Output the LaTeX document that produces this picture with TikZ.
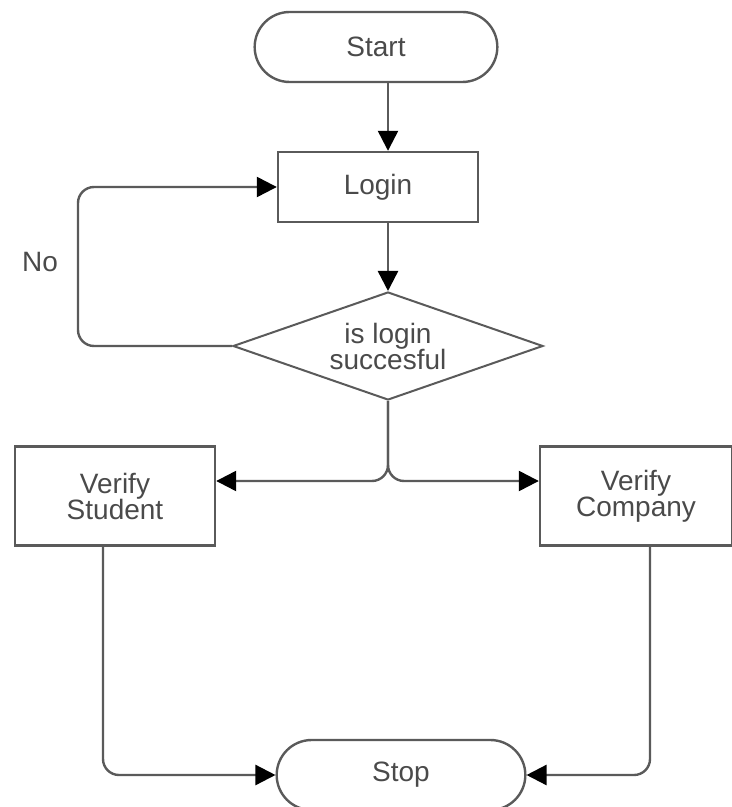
\documentclass[tikz,border=0pt]{standalone}
\usepackage{fontspec}
\setmainfont{Liberation Sans}
\usetikzlibrary{arrows.meta}
\usetikzlibrary{shapes.geometric}
\usetikzlibrary{shapes.misc}
\definecolor{linegray}{HTML}{5A5A5A}
\definecolor{textgray}{HTML}{4A4A4A}
\tikzset{every node/.style = {text = textgray, font = \fontsize{14}{15}\selectfont, align = center}}
\tikzset{terminal/.style = {draw = linegray, line width = 1.2pt, rounded rectangle,
                            minimum width = 128pt, minimum height = 35pt}}
\tikzset{proc/.style = {draw = linegray, line width = 1.2pt, rectangle,
                        minimum width = 100pt, minimum height = 35pt}}
\tikzset{decide/.style = {draw = linegray, line width = 1pt, diamond, aspect = 2.9,
                          inner sep = 0, minimum width = 155pt, minimum height = 54pt}}
\tikzset{arr/.style = {draw = linegray, line width = 1.2pt,
                       -{Triangle[length = 10pt, width = 10pt, color = black]}}}

\begin{document}
\begin{tikzpicture}[x = 0.5pt, y = -0.5pt]
    \useasboundingbox (0, 0) rectangle (732, 807);
    \node [terminal] (start) at (376, 47) {Start};
    \node [proc] (login) at (378, 187) {Login};
    \node [decide] (dec) at (388, 346) {is login\\[-2pt]succesful};
    \node [proc, minimum height = 49.5pt] (vs) at (115, 496) {Verify\\[-2pt]Student};
    \node [proc, minimum width = 96pt, minimum height = 49.5pt] (vc) at (636, 496) {Verify\\[-2pt]Company};
    \node [terminal, minimum width = 131pt] (stop) at (401, 775) {Stop};
    \node (no) at (40, 262) {No};
    \coordinate (split) at (388, 481);

    \draw [arr] (start.south -| dec.north) -- (login.north -| dec.north);
    \draw [arr] (login.south -| dec.north) -- (dec.north);
    \draw [arr, rounded corners = 8pt] (dec.west) -- ++(-154, 0) |- (login.west);
    \draw [arr, rounded corners = 8pt] (dec.south) |- (split -| vs.east);
    \draw [arr, rounded corners = 8pt] (dec.south) |- (split -| vc.west);
    \draw [arr, rounded corners = 8pt] ([xshift = -6pt]vs.south) |- (stop.west);
    \draw [arr, rounded corners = 8pt] ([xshift = 7pt]vc.south) |- (stop.east);
  \end{tikzpicture}
\end{document}
